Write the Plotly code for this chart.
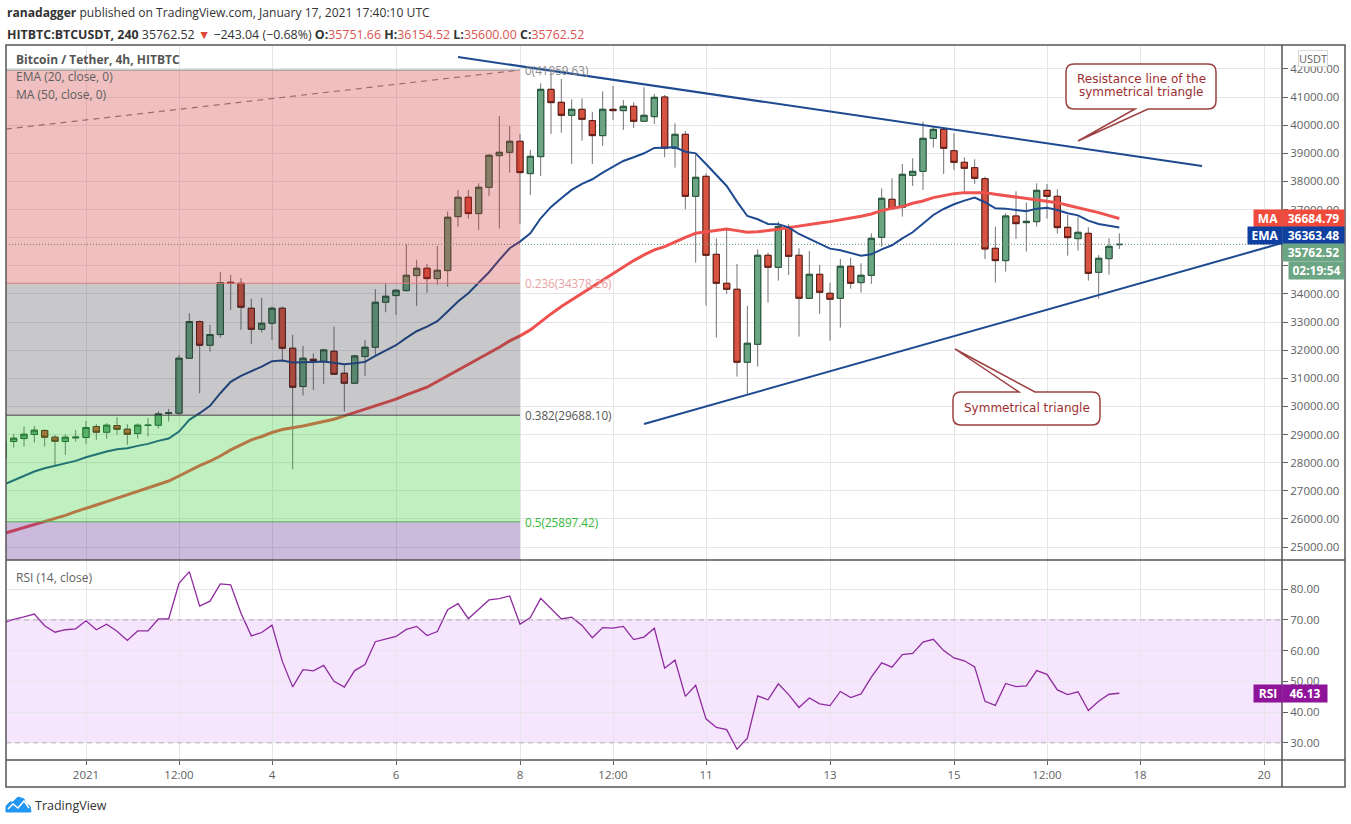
import pandas as pd
import plotly.graph_objects as go

# 4h candles, HITBTC BTCUSDT
dates = pd.date_range('2020-12-30 16:00', periods=109, freq='4h')

opens = [28158, 28751, 28857, 29000, 29142, 28905, 28751, 28881, 28893, 29284,
         29083, 29320, 29189, 29035, 29320, 29332, 29758, 29758, 31713, 33017,
         32175, 32555, 34415, 34380, 33491, 32744, 32958, 33491, 32069, 30706,
         31678, 31595, 31962, 31180, 30824, 31773, 32104, 33704, 33941, 34119,
         34652, 34913, 34545, 34830, 36749, 37437, 36856, 37792, 38918, 39036,
         39428, 38278, 38882, 41276, 40814, 40352, 40565, 40162, 39629, 40565,
         40518, 40672, 40139, 40304, 41003, 39178, 39675, 37471, 38182, 35409,
         34378, 34165, 31570, 32210, 35374, 34947, 36369, 35374, 33845, 34698,
         34023, 33845, 34983, 34402, 34663, 36014, 37365, 37080, 38218, 38360,
         39533, 39853, 39095, 38680, 38490, 38099, 35622, 35184, 36772, 36535,
         36570, 37684, 37471, 36369, 35966, 36155, 34769, 35255, 35751.66]
highs = [28800, 29023, 29284, 29308, 29189, 28988, 29011, 29165, 29486, 29367,
         29402, 29616, 29367, 29402, 29580, 29829, 29912, 31832, 33313, 33052,
         32898, 34782, 34676, 34557, 33823, 33858, 33550, 33550, 32543, 32152,
         31891, 32020, 32839, 31512, 31832, 32365, 34166, 34380, 34166, 35766,
         35209, 35067, 35707, 36927, 37698, 37698, 37934, 38960, 40328, 39973,
         39688, 39120, 41489, 41904, 41644, 40921, 40956, 40470, 41205, 41395,
         40897, 40814, 41347, 41110, 41074, 40066, 39794, 38941, 38289, 35978,
         36334, 35066, 33573, 35587, 35469, 36571, 36488, 35623, 35528, 35030,
         34402, 35243, 35291, 35090, 36156, 37756, 38111, 38621, 38822, 40126,
         39948, 39889, 39711, 38858, 38787, 38170, 36393, 36867, 37649, 37246,
         37933, 37909, 37720, 36807, 36748, 36369, 35385, 35978, 36154.52]
lows = [28100, 28537, 28573, 28715, 28573, 27886, 28277, 28751, 28668, 28810,
        28857, 29000, 28632, 28857, 28928, 29213, 29462, 29699, 31700, 30469,
        31950, 32448, 33432, 32721, 32223, 32626, 32365, 31595, 27767, 30386,
        30587, 30801, 31120, 29817, 30810, 31085, 31832, 33348, 33254, 34083,
        33574, 34048, 34320, 34261, 36394, 36678, 36275, 37484, 36323, 38314,
        36489, 37520, 38195, 39688, 39736, 38622, 39451, 38622, 39262, 40186,
        39830, 39902, 40115, 40044, 38858, 38490, 37009, 35113, 33585, 32447,
        33999, 31060, 30444, 31416, 33691, 34473, 34675, 32483, 33821, 33288,
        32340, 32803, 34189, 34047, 34355, 35682, 37009, 36748, 37839, 37697,
        39201, 38265, 38408, 37637, 37910, 35243, 34402, 34793, 35954, 35504,
        36392, 36677, 36144, 35362, 35539, 34473, 33833, 34686, 35600.00]
closes = [28751, 28869, 29011, 29154, 28905, 28763, 28905, 28905, 29249, 29083,
          29332, 29189, 29011, 29332, 29332, 29734, 29770, 31713, 33017, 32175,
          32555, 34403, 34380, 33526, 32744, 32958, 33491, 32069, 30682, 31713,
          31630, 32010, 31144, 30824, 31796, 32104, 33704, 33917, 34131, 34664,
          34913, 34545, 34842, 36726, 37437, 36856, 37792, 38930, 39036, 39428,
          38314, 38894, 41276, 40802, 40352, 40565, 40210, 39629, 40565, 40518,
          40672, 40139, 40352, 40992, 39178, 39675, 37471, 38147, 35374, 34378,
          34165, 31570, 32245, 35374, 34947, 36393, 35338, 33845, 34698, 34058,
          33810, 34983, 34378, 34663, 35978, 37400, 37033, 38253, 38360, 39533,
          39853, 39178, 38680, 38467, 38111, 35599, 35184, 36772, 36499, 36582,
          37684, 37471, 36357, 36001, 36191, 34733, 35267, 35693, 35762.52]
ema20 = [27210, 27364, 27530, 27684, 27803, 27898, 27981, 28064, 28194, 28301,
         28395, 28478, 28514, 28596, 28668, 28774, 28857, 29106, 29521, 29758,
         30019, 30469, 30872, 31085, 31239, 31417, 31607, 31630, 31559, 31559,
         31583, 31595, 31559, 31500, 31535, 31583, 31796, 31986, 32175, 32436,
         32673, 32839, 33029, 33372, 33728, 34024, 34380, 34771, 35209, 35624,
         35861, 36157, 36690, 37093, 37401, 37698, 37911, 38077, 38314, 38527,
         38728, 38859, 39001, 39191, 39201, 39213, 39059, 39000, 38621, 38230,
         37839, 37282, 36772, 36654, 36488, 36476, 36369, 36132, 35955, 35777,
         35611, 35552, 35445, 35362, 35409, 35587, 35729, 35978, 36192, 36488,
         36808, 37021, 37187, 37317, 37424, 37260, 37044, 37033, 36985, 36938,
         37033, 37068, 36985, 36867, 36795, 36606, 36487, 36416, 36363.48]
ma50 = [25475, 25582, 25688, 25795, 25902, 26008, 26127, 26257, 26364, 26494,
        26613, 26731, 26850, 26968, 27087, 27217, 27347, 27525, 27715, 27893,
        28050, 28235, 28455, 28632, 28810, 28929, 29071, 29180, 29235, 29300,
        29380, 29462, 29545, 29663, 29782, 29876, 29995, 30114, 30256, 30410,
        30540, 30682, 30884, 31085, 31299, 31500, 31678, 31891, 32104, 32329,
        32507, 32721, 33017, 33289, 33550, 33787, 34024, 34261, 34498, 34735,
        34972, 35185, 35387, 35565, 35682, 35860, 36014, 36156, 36203, 36275,
        36310, 36251, 36192, 36215, 36251, 36298, 36358, 36417, 36488, 36523,
        36571, 36630, 36701, 36760, 36843, 36962, 37045, 37104, 37222, 37305,
        37424, 37507, 37566, 37602, 37614, 37602, 37542, 37494, 37447, 37388,
        37364, 37317, 37246, 37151, 37068, 36985, 36890, 36784, 36684.79]
rsi14 = [69.1, 70.2, 71.0, 71.9, 68.1, 66.0, 66.8, 67.1, 69.7, 66.8,
         68.6, 66.3, 63.3, 66.4, 66.4, 70.3, 70.3, 81.9, 85.7, 74.5,
         76.1, 81.7, 81.4, 72.2, 64.8, 65.9, 68.3, 56.5, 48.2, 53.8,
         53.4, 55.2, 50.0, 48.1, 53.5, 55.5, 62.9, 63.7, 64.6, 66.9,
         67.9, 64.9, 66.2, 73.3, 75.3, 70.4, 73.5, 76.5, 76.9, 77.8,
         68.6, 70.8, 77.0, 73.5, 70.3, 70.9, 68.2, 64.2, 67.5, 67.3,
         67.9, 63.6, 64.4, 67.3, 54.3, 56.9, 45.1, 48.7, 37.8, 35.0,
         34.3, 27.9, 31.5, 45.3, 44.0, 49.2, 45.7, 41.5, 44.6, 42.7,
         42.1, 46.7, 44.7, 45.9, 51.4, 56.0, 54.6, 58.7, 59.1, 62.8,
         63.7, 60.0, 57.6, 56.7, 54.7, 43.5, 42.2, 49.3, 48.3, 48.5,
         53.5, 52.3, 47.2, 45.7, 46.6, 40.5, 43.5, 45.8, 46.13]

price_ticks = list(range(25000, 43000, 1000))
# 35000 and 36000 sit behind the last-value tags in the original
price_labels = ['' if p in (35000, 36000) else '%.2f' % p for p in price_ticks]
rsi_ticks = [30, 40, 50, 60, 70, 80]
time_ticks = ['2021-01-01', '2021-01-02 12:00', '2021-01-04', '2021-01-06', '2021-01-08',
              '2021-01-09 12:00', '2021-01-11', '2021-01-13', '2021-01-15',
              '2021-01-16 12:00', '2021-01-18', '2021-01-20']
time_labels = ['2021', '12:00', '4', '6', '8', '12:00', '11', '13', '15', '12:00', '18', '20']

fib_end = '2021-01-08'
fib_levels = [41959.63, 34378.26, 29688.10, 25897.42]
fib_names = ['0', '0.236', '0.382', '0.5']
fib_diag_x = ['2020-12-30 17:00', fib_end]
fib_diag_y = [39860, 41959.63]
resistance_x = ['2021-01-07', '2021-01-19']
resistance_y = [42424, 38548]
support_x = ['2021-01-10', '2021-01-20 07:00']
support_y = [29374, 35810]

X_RANGE = ['2020-12-30 17:02', '2021-01-20 06:58']
Y_RANGE = [24538, 42852]
RSI_RANGE = [24.4, 89.5]

W, H = 1351, 824
LEFT, RIGHT, TOP, SPLIT, BOTTOM = 6, 1282, 45, 560, 760
FONT = 'Open Sans'
GREY = '#5f5f5f'


def px(x):
    return (x - LEFT) / (RIGHT - LEFT)


def py(y):
    return (BOTTOM - y) / (BOTTOM - TOP)


def label(text, x, y, size=12, color=GREY, anchor='left', family=FONT, **kw):
    return dict(text=text, x=px(x), y=py(y), xref='paper', yref='paper', showarrow=False,
                xanchor=anchor, yanchor='middle', font=dict(size=size, color=color, family=family),
                borderpad=0, **kw)


def tag(text, x0, x1, y0, y1, color, size=12):
    return dict(text='<b>%s</b>' % text, x=px((x0 + x1) / 2), y=py((y0 + y1) / 2), xref='paper', yref='paper',
                showarrow=False, xanchor='center', yanchor='middle', width=x1 - x0, height=y1 - y0,
                bgcolor=color, borderpad=0, font=dict(size=size, color='white', family=FONT))


def callout(x0, y0, x1, y1, tail0, tail1, tip_x, tip_y, edge_y, r=8):
    p = 'M %f %f ' % (px(x0 + r), py(y0))
    if edge_y == y0:
        p += 'L %f %f L %f %f L %f %f ' % (px(tail0), py(y0), px(tip_x), py(tip_y), px(tail1), py(y0))
    p += 'L %f %f Q %f %f %f %f ' % (px(x1 - r), py(y0), px(x1), py(y0), px(x1), py(y0 + r))
    p += 'L %f %f Q %f %f %f %f ' % (px(x1), py(y1 - r), px(x1), py(y1), px(x1 - r), py(y1))
    if edge_y == y1:
        p += 'L %f %f L %f %f L %f %f ' % (px(tail1), py(y1), px(tip_x), py(tip_y), px(tail0), py(y1))
    p += 'L %f %f Q %f %f %f %f ' % (px(x0 + r), py(y1), px(x0), py(y1), px(x0), py(y1 - r))
    p += 'L %f %f Q %f %f %f %f Z' % (px(x0), py(y0 + r), px(x0), py(y0), px(x0 + r), py(y0))
    return dict(type='path', path=p, xref='paper', yref='paper', fillcolor='white',
                line=dict(color='#9c4040', width=1.5), layer='above')


fig = go.Figure()

# wicks first, so they can stay grey under the bodies
fig.add_trace(go.Candlestick(
    x=dates, open=opens, high=highs, low=lows, close=closes, xaxis='x', yaxis='y',
    increasing=dict(line=dict(color='#737375', width=1), fillcolor='#737375'),
    decreasing=dict(line=dict(color='#737375', width=1), fillcolor='#737375'),
    hoverinfo='skip'))
fig.add_trace(go.Candlestick(
    x=dates, open=opens, close=closes, xaxis='x', yaxis='y',
    high=[max(o, c) for o, c in zip(opens, closes)],
    low=[min(o, c) for o, c in zip(opens, closes)],
    increasing=dict(line=dict(color='#225437', width=1), fillcolor='#6BA583'),
    decreasing=dict(line=dict(color='#5B1A13', width=1), fillcolor='#D75442'),
    hoverinfo='skip'))

fig.add_trace(go.Scatter(x=X_RANGE, y=[closes[-1], closes[-1]], mode='lines',
                         line=dict(color='#5f8f75', width=1, dash='1px,2px')))
fig.add_trace(go.Scatter(x=fib_diag_x, y=fib_diag_y, mode='lines',
                         line=dict(color='#8a8a8a', width=1.2, dash='6px,5px')))
fig.add_trace(go.Scatter(x=dates, y=ma50, mode='lines', line=dict(color='#EF5350', width=3)))
fig.add_trace(go.Scatter(x=dates, y=ema20, mode='lines', line=dict(color='#1E4A91', width=2)))
fig.add_trace(go.Scatter(x=resistance_x, y=resistance_y, mode='lines', line=dict(color='#1E4A91', width=2)))
fig.add_trace(go.Scatter(x=support_x, y=support_y, mode='lines', line=dict(color='#1E4A91', width=2)))

fig.add_trace(go.Scatter(x=dates, y=rsi14, mode='lines', xaxis='x', yaxis='y2',
                         line=dict(color='#8E2A9E', width=1.3)))

fib_x0 = X_RANGE[0]
fib_shapes = []
fib_fills = [(fib_levels[0], fib_levels[1], 'rgba(203,38,38,0.29)'),
             (fib_levels[1], fib_levels[2], 'rgba(41,41,56,0.26)'),
             (fib_levels[2], fib_levels[3], 'rgba(48,205,48,0.30)'),
             (fib_levels[3], Y_RANGE[0], 'rgba(82,28,138,0.30)')]
for top, bottom, color in fib_fills:
    fib_shapes.append(dict(type='rect', xref='x', yref='y', x0=fib_x0, x1=fib_end, y0=bottom, y1=top,
                           fillcolor=color, line=dict(width=0), layer='above'))
fib_lines = ['#8a8a8a', '#e07b7b', '#444444', '#4caf50']
for level, color in zip(fib_levels, fib_lines):
    fib_shapes.append(dict(type='line', xref='x', yref='y', x0=fib_x0, x1=fib_end, y0=level, y1=level,
                           line=dict(color=color, width=1), layer='above'))

rsi_shapes = [
    dict(type='rect', xref='paper', yref='y2', x0=0, x1=1, y0=30, y1=70,
         fillcolor='#F5E6FE', line=dict(width=0), layer='below'),
    dict(type='line', xref='paper', yref='y2', x0=0, x1=1, y0=30, y1=30,
         line=dict(color='#b7a9bd', width=1, dash='5px,4px')),
    dict(type='line', xref='paper', yref='y2', x0=0, x1=1, y0=70, y1=70,
         line=dict(color='#b7a9bd', width=1, dash='5px,4px')),
]

FRAME = '#555555'
frame_shapes = [
    dict(type='rect', xref='paper', yref='paper', x0=px(LEFT), x1=px(1345), y0=py(787), y1=py(TOP),
         line=dict(color=FRAME, width=1.5), layer='above'),
    dict(type='line', xref='paper', yref='paper', x0=px(LEFT), x1=px(1345), y0=py(SPLIT), y1=py(SPLIT),
         line=dict(color=FRAME, width=1.5), layer='above'),
    dict(type='line', xref='paper', yref='paper', x0=px(LEFT), x1=px(1345), y0=py(BOTTOM), y1=py(BOTTOM),
         line=dict(color=FRAME, width=1.5), layer='above'),
    dict(type='line', xref='paper', yref='paper', x0=px(RIGHT), x1=px(RIGHT), y0=py(787), y1=py(TOP),
         line=dict(color=FRAME, width=1.5), layer='above'),
]

logo_pts = [(6, 812), (6, 806), (10, 802), (13, 802), (18, 797), (24, 799), (26, 804), (30, 806), (31, 812)]
logo_path = 'M ' + ' L '.join('%f %f' % (px(a), py(b)) for a, b in logo_pts) + ' Z'
zig_pts = [(8, 809), (13, 804), (18, 808), (24, 801), (29, 808)]
zig_path = 'M ' + ' L '.join('%f %f' % (px(a), py(b)) for a, b in zig_pts)
logo_shapes = [
    dict(type='path', path=logo_path, xref='paper', yref='paper', fillcolor='#2196F3',
         line=dict(color='#2196F3', width=1)),
    dict(type='path', path=zig_path, xref='paper', yref='paper', line=dict(color='white', width=1.5)),
]

callouts = [
    callout(1066, 64, 1216, 109, 1135, 1148, 1078, 141, 109),
    callout(953, 392, 1100, 425, 1019, 1035, 955, 349, 392),
]

RED = '#D9534F'
header2 = ('<b>HITBTC:BTCUSDT, 240</b> %.2f <span style="color:#e0473c">▼</span> −243.04 (−0.68%%) '
           '<b>O:</b><span style="color:{r}">%.2f</span> <b>H:</b><span style="color:{r}">%.2f</span> '
           '<b>L:</b><span style="color:{r}">%.2f</span> <b>C:</b><span style="color:{r}">%.2f</span>'
           % (closes[-1], opens[-1], highs[-1], lows[-1], closes[-1])).format(r=RED)

annotations = [
    label('<b>ranadagger</b> published on TradingView.com, January 17, 2021 17:40:10 UTC', 6, 13, size=12.1, color='#333333'),
    label(header2, 6, 34, size=12.4, color='#333333'),
    label('<b>Bitcoin / Tether, 4h, HITBTC</b>', 15, 60, size=12, color='#555555'),
    label('EMA (20, close, 0)', 15, 77, size=12),
    label('MA (50, close, 0)', 15, 94, size=12),
    label('RSI (14, close)', 15, 577, size=12),
    label('TradingView', 34, 805, size=12.5, color='#333333'),
    label('USDT', 1313, 59, size=11, anchor='center', bgcolor='white', bordercolor='#d8d8d8', borderwidth=1),
    label('Resistance line of the', 1141, 79, size=12, color='#9c2f2f', anchor='center', family='DejaVu Sans'),
    label('symmetrical triangle', 1141, 92, size=12, color='#9c2f2f', anchor='center', family='DejaVu Sans'),
    label('Symmetrical triangle', 1027, 408, size=12, color='#9c2f2f', anchor='center', family='DejaVu Sans'),
    tag('MA', 1254, 1282, 210, 227, '#EF4A3C'),
    tag('%.2f' % ma50[-1], 1283, 1344, 210, 227, '#EF4A3C'),
    tag('EMA', 1248, 1282, 227, 244, '#0F409F'),
    tag('%.2f' % ema20[-1], 1283, 1344, 227, 244, '#0F409F'),
    tag('%.2f' % closes[-1], 1283, 1344, 244, 261, '#6BA583'),
    tag('02:19:54', 1289, 1344, 262, 279, '#6BA583'),
    tag('RSI', 1254, 1282, 685, 702, '#8E1599'),
    tag('%.2f' % rsi14[-1], 1283, 1327, 685, 702, '#8E1599'),
]
fib_colors = ['#8a8a8a', '#eaa3a3', '#555555', '#35b835']
for name, level, color in zip(fib_names, fib_levels, fib_colors):
    annotations.append(dict(text='%s(%.2f)' % (name, level), x=fib_end, y=level, xref='x', yref='y',
                            showarrow=False, xanchor='left', yanchor='middle', xshift=3,
                            font=dict(size=11.7, color=color, family=FONT)))

axis_font = dict(size=11.5, color=GREY, family=FONT)
GRID = '#e6e6ea'
fig.update_layout(
    width=W, height=H,
    margin=dict(l=LEFT, r=W - RIGHT, t=TOP, b=H - BOTTOM, autoexpand=False),
    paper_bgcolor='white', plot_bgcolor='white', showlegend=False, hovermode=False,
    boxgap=0.25, boxgroupgap=0.2,
    xaxis=dict(type='date', range=X_RANGE, anchor='y2', tickvals=time_ticks, ticktext=time_labels,
               rangeslider=dict(visible=False), showgrid=True, gridcolor=GRID, gridwidth=1, zeroline=False,
               ticks='outside', ticklen=4, tickcolor=GREY, tickfont=axis_font, showline=False),
    yaxis=dict(domain=[py(SPLIT), 1], range=Y_RANGE, side='right', anchor='x', tickvals=price_ticks,
               ticktext=price_labels, showgrid=True, gridcolor=GRID, gridwidth=1, zeroline=False,
               ticks='outside', ticklen=5, tickcolor=GREY, tickfont=axis_font),
    yaxis2=dict(domain=[0, py(SPLIT)], range=RSI_RANGE, side='right', anchor='x', tickvals=rsi_ticks,
                tickformat='.2f', showgrid=True, gridcolor=GRID, gridwidth=1, zeroline=False,
                ticks='outside', ticklen=5, tickcolor=GREY, tickfont=axis_font),
    shapes=rsi_shapes + fib_shapes + callouts + frame_shapes + logo_shapes,
    annotations=annotations,
)

fig.write_html("out.html", config=dict(displayModeBar=False),
               post_script="document.body.style.margin='0';document.documentElement.style.overflow='hidden';")
